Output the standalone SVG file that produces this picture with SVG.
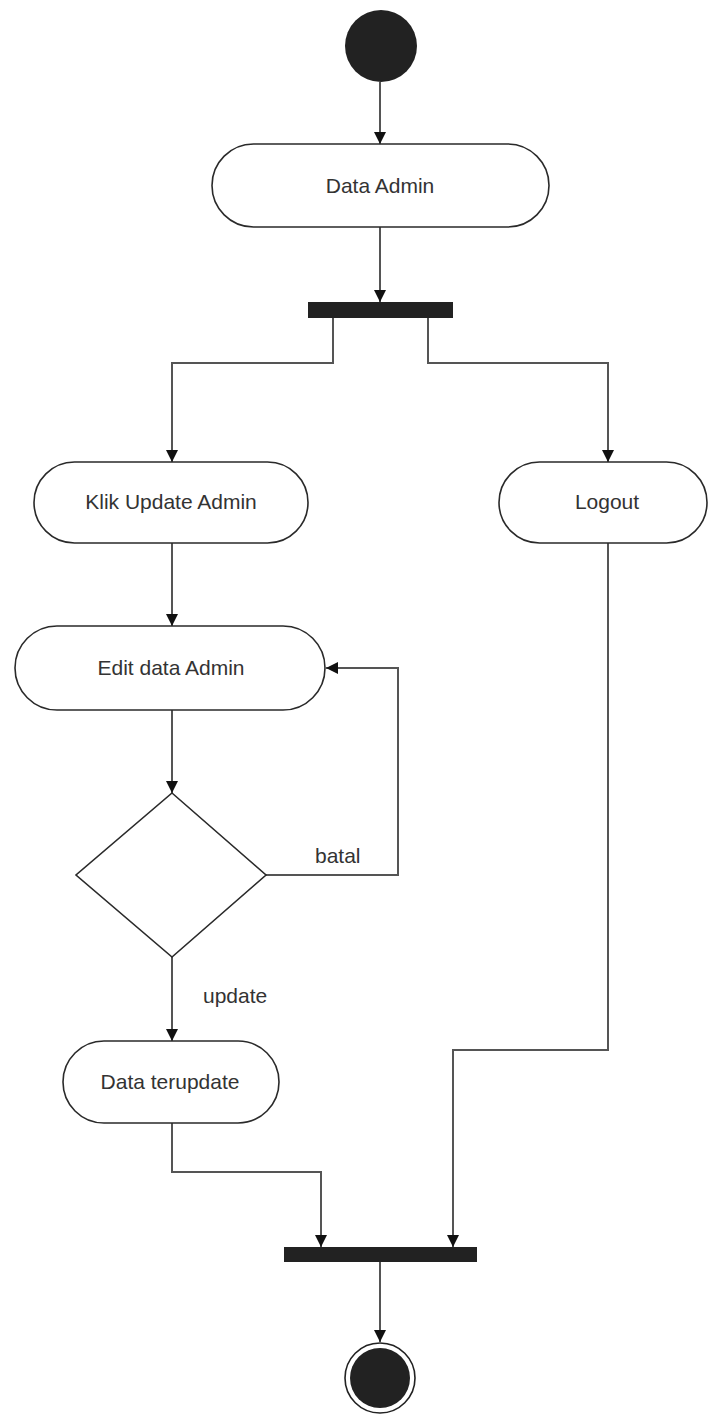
<svg xmlns="http://www.w3.org/2000/svg" width="708" height="1414" viewBox="0 0 708 1414">
  <style>
    .act { fill: #ffffff; stroke: #2a2a2a; stroke-width: 1.6; }
    .bar { fill: #222222; }
    .solid { fill: #222222; }
    .lbl { font-family: "Liberation Sans", Arial, sans-serif; font-size: 21px; fill: #333333; }
    .mid { text-anchor: middle; }
    .flow { fill: none; stroke: #555555; stroke-width: 2; marker-end: url(#arrow); }
  </style>
  <defs>
    <marker id="arrow" viewBox="0 0 12 12" refX="12" refY="6" markerWidth="12" markerHeight="12" markerUnits="userSpaceOnUse" orient="auto">
      <path d="M0,0 L12,6 L0,12 Z" fill="#111111"/>
    </marker>
  </defs>
  <rect width="708" height="1414" fill="#ffffff"/>

  <!-- connectors -->
  <g id="connectors">
    <path class="flow" d="M380,82 V144"/>
    <path class="flow" d="M380,227 V302"/>
    <path class="flow" d="M333,318 V363 H172 V462"/>
    <path class="flow" d="M428,318 V363 H608 V462"/>
    <path class="flow" d="M172,543 V626"/>
    <path class="flow" d="M172,710 V793"/>
    <path class="flow" d="M266,875 H398 V668 H326"/>
    <path class="flow" d="M172,957 V1041"/>
    <path class="flow" d="M172,1123 V1172 H321 V1247"/>
    <path class="flow" d="M608,543 V1050 H453 V1247"/>
    <path class="flow" d="M380,1262 V1342"/>
    <text class="lbl" x="315" y="863">batal</text>
    <text class="lbl" x="203" y="1003">update</text>
  </g>

  <!-- start -->
  <g id="start">
    <circle class="solid" cx="381" cy="46" r="36"/>
  </g>

  <g id="data-admin">
    <rect class="act" x="212" y="144" width="337" height="83" rx="41.5"/>
    <text class="lbl mid" x="380" y="193">Data Admin</text>
  </g>

  <g id="fork">
    <rect class="bar" x="308" y="302" width="145" height="16"/>
  </g>

  <g id="klik-update-admin">
    <rect class="act" x="34" y="462" width="274" height="81" rx="40.5"/>
    <text class="lbl mid" x="171" y="509">Klik Update Admin</text>
  </g>

  <g id="logout">
    <rect class="act" x="499" y="462" width="208" height="81" rx="40.5"/>
    <text class="lbl mid" x="607" y="509">Logout</text>
  </g>

  <g id="edit-data-admin">
    <rect class="act" x="15" y="626" width="310" height="84" rx="42"/>
    <text class="lbl mid" x="171" y="675">Edit data Admin</text>
  </g>

  <g id="decision">
    <polygon class="act" points="172,793 266,875 172,957 76,875"/>
  </g>

  <g id="data-terupdate">
    <rect class="act" x="63" y="1041" width="216" height="82" rx="41"/>
    <text class="lbl mid" x="170" y="1089">Data terupdate</text>
  </g>

  <g id="join">
    <rect class="bar" x="284" y="1247" width="193" height="15"/>
  </g>

  <!-- end -->
  <g id="end">
    <circle cx="380" cy="1378" r="35" fill="#ffffff" stroke="#222222" stroke-width="1.6"/>
    <circle class="solid" cx="380" cy="1378" r="30"/>
  </g>
</svg>
